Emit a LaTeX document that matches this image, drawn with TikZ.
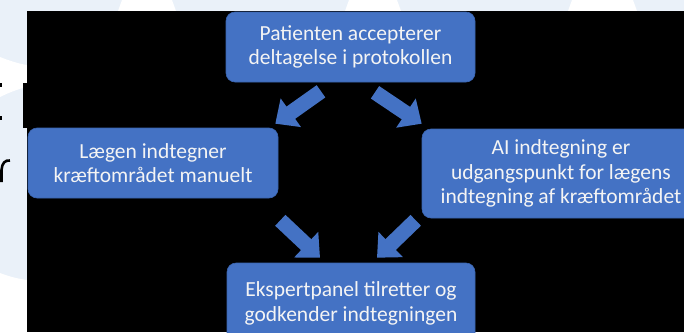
\documentclass[tikz,border=0pt]{standalone}
\usepackage{fontspec}
\setmainfont{Carlito}
\usetikzlibrary{arrows.meta,calc}
\definecolor{boxblue}{HTML}{4472C4}
\definecolor{boxedge}{HTML}{3A64B0}
\definecolor{paleblue}{HTML}{EAF1F9}
\definecolor{boxtext}{HTML}{F4F4F4}
\tikzset{
  stepbox/.style={fill=boxblue, draw=boxedge, line width=0.6pt, rounded corners=9pt,
    text=boxtext, align=center, inner sep=0pt,
    font=\fontsize{21.5}{24.5}\selectfont},
  flowarrow/.style={draw=boxblue, line width=15pt,
    -{Triangle[length=19pt,width=34pt]}},
}
\begin{document}
\begin{tikzpicture}[x=1pt,y=-1pt]
\useasboundingbox (0,0) rectangle (684,332);
\clip (0,0) rectangle (684,332);

% slide backdrop behind the black panel
\fill[paleblue] (0,0) rectangle (684,332);
\fill[white] (122,0) -- (172,0) -- (176,11) -- (118,11) -- cycle;
\fill[white] (349,0) -- (397,0) -- (401,11) -- (345,11) -- cycle;
\fill[white] (572,0) -- (633,0) -- (637,11) -- (568,11) -- cycle;
\fill[white] (0,57) .. controls (10,61) and (20,64) .. (27,65)
  -- (27,87) .. controls (18,89) and (8,93) .. (0,97) -- cycle;
\fill[white] (0,273) .. controls (10,277) and (20,279) .. (27,280)
  -- (27,332) -- (0,332) -- cycle;

% fragments of slide lettering at the left edge
\fill[black] (0,83) rectangle (2,87);
\fill[black] (0,116) rectangle (2,120);
\draw[black, line width=2.6pt] (1.5,182) -- (1.5,170) .. controls (2,163) and (5,160) .. (10,160.5);
\fill[black] (23,83) rectangle (28,128);

% black panel
\fill[black] (27,11) rectangle (684,332);

% steps
\node[stepbox, minimum width=249pt, minimum height=70pt] (top) at (350.5,47)
  {Patienten accepterer\\deltagelse i protokollen};
\node[stepbox, minimum width=250pt, minimum height=70pt] (left) at (153,163)
  {Lægen indtegner\\kræftområdet manuelt};
\node[stepbox, minimum width=278pt, minimum height=89pt] (right) at (561,173.5)
  {AI indtegning er\\udgangspunkt for lægens\\indtegning af kræftområdet};
\node[stepbox, minimum width=248pt, minimum height=81pt] (bottom) at (351,303.5)
  {Ekspertpanel tilretter og\\godkender indtegningen};

% block arrows between the steps
\draw[flowarrow] ($(top.south)+(-29.5,9)$) -- ($(left.north east)+(-3,-4)$);
\draw[flowarrow] ($(top.south)+(24.5,10)$) -- ($(right.north west)+(0,-5)$);
\draw[flowarrow] ($(left.south east)+(2,22)$) -- ($(bottom.north)+(-31,-5)$);
\draw[flowarrow] ($(right.south west)+(-6,2)$) -- ($(bottom.north)+(26,-5)$);
\end{tikzpicture}
\end{document}
